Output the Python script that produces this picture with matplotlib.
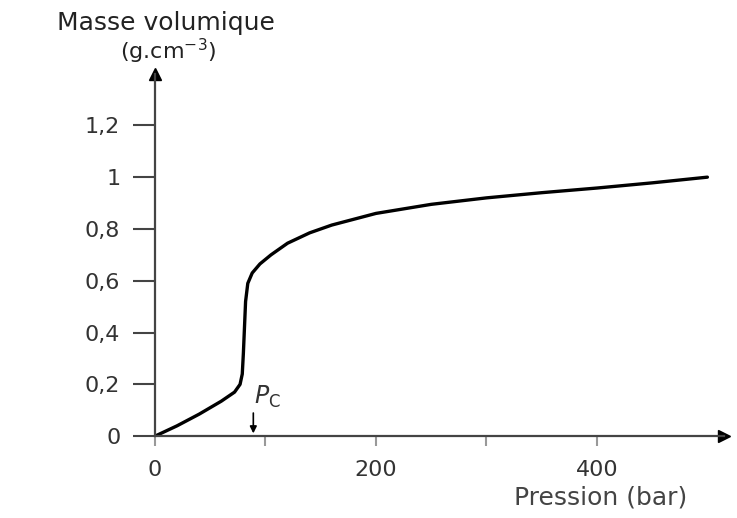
import matplotlib.pyplot as plt

# density of CO2 vs pressure
pression = [0, 20, 40, 60, 72, 77, 79, 80, 81, 82, 84, 88, 95, 105, 120, 140, 160,
            200, 250, 300, 350, 400, 450, 500]
masse = [0, 0.04, 0.085, 0.135, 0.17, 0.2, 0.24, 0.32, 0.42, 0.52, 0.59, 0.63, 0.665,
         0.7, 0.745, 0.785, 0.815, 0.86, 0.895, 0.92, 0.94, 0.958, 0.978, 1.0]
yticks = [0, 0.2, 0.4, 0.6, 0.8, 1, 1.2]
ylabels = ["0", "0,2", "0,4", "0,6", "0,8", "1", "1,2"]
xticks = [0, 100, 200, 300, 400]
xlabels = ["0", "", "200", "", "400"]
pc = 89

plt.rcParams["font.family"] = ["DejaVu Sans"]

fig = plt.figure(figsize=(7.37, 5.18), dpi=100)
ax = fig.add_axes([0.2103, 0.158, 0.772, 0.700])
ax.plot(pression, masse, color="black", lw=2.4, solid_capstyle="round")
ax.set_xlim(0, 515)
ax.set_ylim(0, 1.4)

for s in ["top", "right"]:
    ax.spines[s].set_visible(False)
for s in ["left", "bottom"]:
    ax.spines[s].set_color("#444444")
    ax.spines[s].set_linewidth(1.6)

ax.plot(1, 0, ">", color="black", ms=9, transform=ax.transAxes, clip_on=False)
ax.plot(0, 1, "^", color="black", ms=9, transform=ax.transAxes, clip_on=False)

ax.set_yticks(yticks)
ax.set_yticklabels(ylabels, fontsize=16, color="#333333")
ax.tick_params(axis="y", length=16, width=1.5, color="#444444", pad=9)
ax.set_xticks(xticks)
ax.set_xticklabels(xlabels, fontsize=16, color="#333333")
ax.tick_params(axis="x", length=7, width=1.5, color="#999999", pad=10)

ax.annotate("", xy=(pc, 0), xytext=(pc, 0.1),
            arrowprops=dict(arrowstyle="-|>", color="black", lw=1.2, mutation_scale=10))
ax.text(pc + 1, 0.125, "$P_\\mathrm{C}$", fontsize=17, color="#333333")

fig.text(0.225, 0.955, "Masse volumique", fontsize=18, ha="center", va="center", color="#222222")
fig.text(0.228, 0.9, "(g.cm$^{-3}$)", fontsize=16, ha="center", va="center", color="#222222")
fig.text(0.815, 0.04, "Pression (bar)", fontsize=18, ha="center", va="center", color="#444444")

fig.savefig("out.png", dpi=100)
